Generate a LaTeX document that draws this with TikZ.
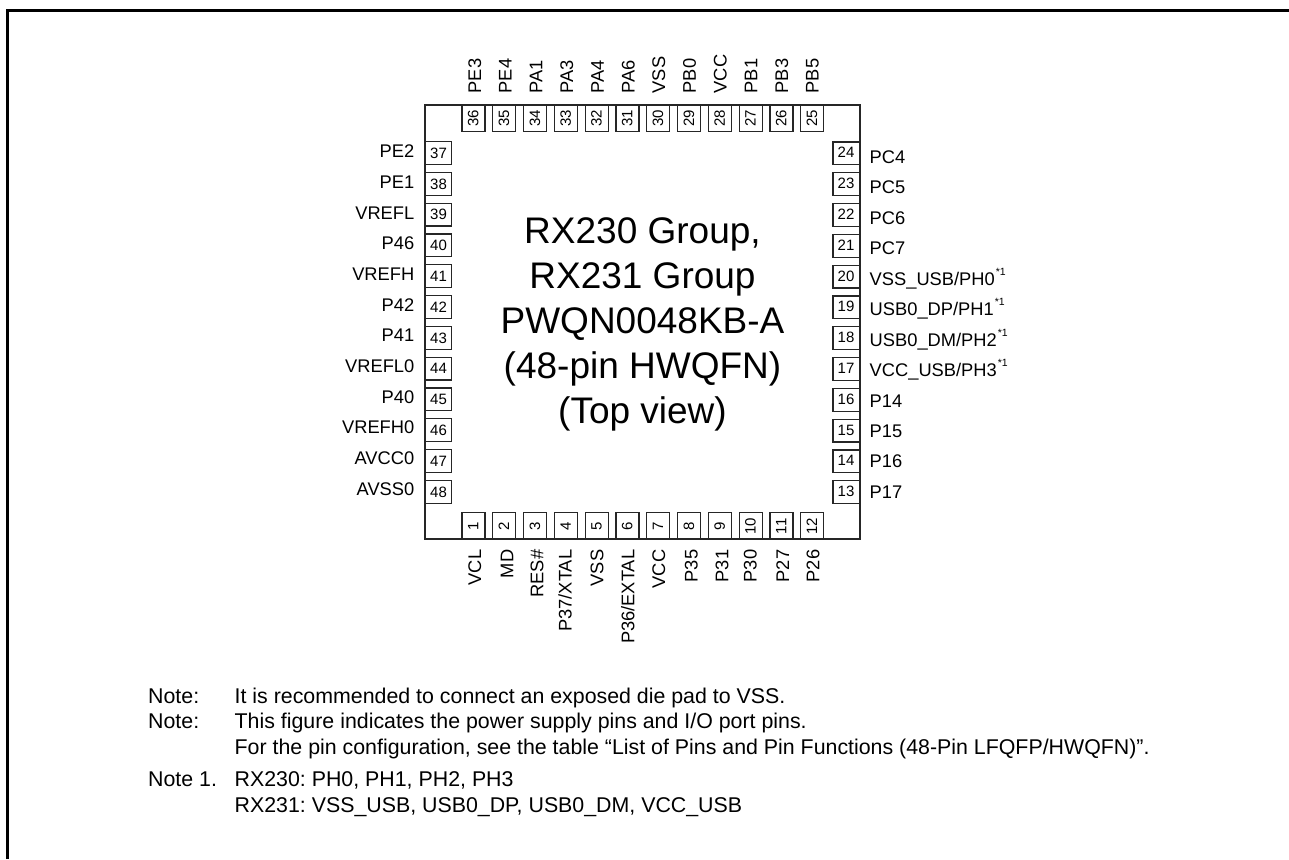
\documentclass[tikz,border=0pt]{standalone}
\usepackage{fontspec}
\setmainfont{Liberation Sans}
\newcommand{\starone}{\hspace{1pt}\raisebox{10pt}{\fontsize{10.5}{10.5}\selectfont *1}}
\tikzset{
  x=1pt,y=-1pt,
  pinh/.style={draw=black!85,line width=1.2pt,minimum width=26.5pt,minimum height=22.8pt,inner sep=0pt},
  pinv/.style={draw=black!85,line width=1.2pt,minimum width=23pt,minimum height=26.5pt,inner sep=0pt},
  numh/.style={anchor=base,inner sep=0pt,font=\fontsize{15}{15}\selectfont},
  numv/.style={rotate=90,anchor=base,inner sep=0pt,font=\fontsize{15}{15}\selectfont},
  lab/.style={inner sep=0pt,font=\fontsize{18.3}{18.3}\selectfont},
  ttl/.style={inner sep=0pt,anchor=base,font=\fontsize{37}{37}\selectfont},
  note/.style={inner sep=0pt,anchor=base west,font=\fontsize{21.35}{21.35}\selectfont\frenchspacing},
}
\begin{document}
\begin{tikzpicture}
\useasboundingbox (0,0) rectangle (1289,859);
% frame
\coordinate (fa) at (7.5,859);
\coordinate (fb) at (7.5,10.5);
\coordinate (fc) at (1289,10.5);
\draw[line width=3pt,line join=miter] (fa) -- (fb) -- (fc);
% package
\node[draw=black!85,line width=1.4pt,minimum width=435pt,minimum height=434pt,inner sep=0pt] (pkg) at (642.5,322) {};
\node[ttl] (t1) at (642.5,243.3) {RX230 Group,};
\node[ttl] (t2) at (642.5,288.8) {RX231 Group};
\node[ttl] (t3) at (642.5,333.5) {PWQN0048KB-A};
\node[ttl] (t4) at (642.5,378.3) {(48-pin HWQFN)};
\node[ttl] (t5) at (642.5,423.3) {(Top view)};
% top pins
\foreach \n/\l [count=\i from 0] in {36/PE3,35/PE4,34/PA1,33/PA3,32/PA4,31/PA6,30/VSS,29/PB0,28/VCC,27/PB1,26/PB3,25/PB5}{
  \pgfmathsetmacro\px{473.4+30.8*\i}
  \pgfmathsetmacro\qx{481+30.7*\i}
  \node[pinv] (p\n) at (\px,118.4) {};
  \node[numv] (n\n) at (\px+5,118.6) {\n};
  \node[lab,rotate=90,anchor=base west] (l\n) at (\qx,93.5) {\l};
}
% bottom pins
\foreach \n/\l/\qx [count=\i from 0] in {1/VCL/481,2/MD/513.3,3/RES\#/543.3,4/P37\slash XTAL/571.7,5/VSS/603.3,6/P36\slash EXTAL/634.3,7/VCC/665,8/P35/697.7,9/P31/728.3,10/P30/756.7,11/P27/789,12/P26/819.3}{
  \pgfmathsetmacro\px{473.4+30.8*\i}
  \node[pinv] (p\n) at (\px,526) {};
  \node[numv] (n\n) at (\px+5,526.3) {\n};
  \node[lab,rotate=90,anchor=base east] (l\n) at (\qx,549.5) {\l};
}
% left pins
\foreach \n/\l [count=\i from 0] in {37/PE2,38/PE1,39/VREFL,40/P46,41/VREFH,42/P42,43/P41,44/VREFL0,45/P40,46/VREFH0,47/AVCC0,48/AVSS0}{
  \pgfmathsetmacro\py{153+30.8*\i}
  \pgfmathsetmacro\qy{157.9+30.65*\i}
  \node[pinh] (p\n) at (438.2,\py) {};
  \node[numh] (n\n) at (438.5,\py+5.2) {\n};
  \node[lab,anchor=base east] (l\n) at (414.5,\qy) {\l};
}
% right pins
\foreach \n/\l [count=\i from 0] in {24/PC4,23/PC5,22/PC6,21/PC7,20/VSS\_USB\slash PH0\starone,19/USB0\_DP\slash PH1\starone,18/USB0\_DM\slash PH2\starone,17/VCC\_USB\slash PH3\starone,16/P14,15/P15,14/P16,13/P17}{
  \pgfmathsetmacro\py{153.3+30.8*\i}
  \pgfmathsetmacro\qy{163.4+30.45*\i}
  \node[pinh] (p\n) at (846.3,\py) {};
  \node[numh] (n\n) at (846,\py+4.6) {\n};
  \node[lab,anchor=base west] (l\n) at (869.5,\qy) {\l};
}
% notes
\node[note] (a1) at (148,703.3) {Note:};
\node[note] (a2) at (234.5,703.3) {It is recommended to connect an exposed die pad to VSS.};
\node[note] (b1) at (148,728.8) {Note:};
\node[note] (b2) at (234.5,728.8) {This figure indicates the power supply pins and I/O port pins.};
\node[note] (b3) at (234.5,754.3) {For the pin configuration, see the table “List of Pins and Pin Functions (48-Pin LFQFP/HWQFN)”.};
\node[note] (c1) at (148,786.5) {Note 1.};
\node[note] (c2) at (234.5,786.5) {RX230: PH0, PH1, PH2, PH3};
\node[note] (c3) at (234.5,812) {RX231: VSS\_USB, USB0\_DP, USB0\_DM, VCC\_USB};
\end{tikzpicture}
\end{document}
